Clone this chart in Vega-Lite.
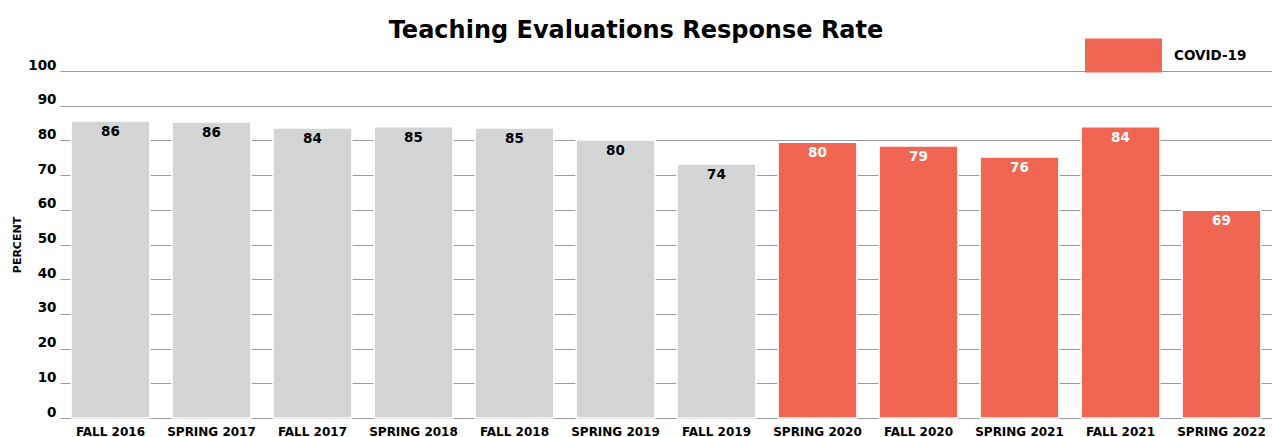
{
  "$schema": "https://vega.github.io/schema/vega-lite/v6.json",
  "width": 1212,
  "height": 347,
  "autosize": {"type": "none"},
  "padding": {"left": 60, "top": 71, "right": 0, "bottom": 19},
  "background": "white",
  "config": {
    "font": "DejaVu Sans",
    "view": {"stroke": null}
  },
  "title": {
    "text": "Teaching Evaluations Response Rate",
    "frame": "group",
    "anchor": "middle",
    "dx": -30,
    "offset": -45,
    "fontSize": 24,
    "fontWeight": "bold",
    "font": "DejaVu Sans",
    "color": "black",
    "baseline": "alphabetic"
  },
  "data": {
    "values": [
      {"term": "FALL 2016", "rate": 85.6, "label": "86", "period": "Pre-COVID"},
      {"term": "SPRING 2017", "rate": 85.3, "label": "86", "period": "Pre-COVID"},
      {"term": "FALL 2017", "rate": 83.6, "label": "84", "period": "Pre-COVID"},
      {"term": "SPRING 2018", "rate": 83.9, "label": "85", "period": "Pre-COVID"},
      {"term": "FALL 2018", "rate": 83.6, "label": "85", "period": "Pre-COVID"},
      {"term": "SPRING 2019", "rate": 80.1, "label": "80", "period": "Pre-COVID"},
      {"term": "FALL 2019", "rate": 73.2, "label": "74", "period": "Pre-COVID"},
      {"term": "SPRING 2020", "rate": 79.5, "label": "80", "period": "COVID-19"},
      {"term": "FALL 2020", "rate": 78.4, "label": "79", "period": "COVID-19"},
      {"term": "SPRING 2021", "rate": 75.2, "label": "76", "period": "COVID-19"},
      {"term": "FALL 2021", "rate": 83.9, "label": "84", "period": "COVID-19"},
      {"term": "SPRING 2022", "rate": 59.9, "label": "69", "period": "COVID-19"}
    ]
  },
  "encoding": {
    "x": {
      "field": "term",
      "type": "nominal",
      "sort": null,
      "scale": {"paddingInner": 0.22, "paddingOuter": 0.11},
      "axis": {
        "title": null,
        "labelAngle": 0,
        "labelFontSize": 12,
        "labelFontWeight": "bold",
        "labelColor": "black",
        "labelPadding": 8,
        "ticks": false,
        "domain": false
      }
    },
    "y": {
      "field": "rate",
      "type": "quantitative",
      "scale": {"domain": [0, 100], "nice": false},
      "axis": {
        "title": "PERCENT",
        "titleFontSize": 11,
        "titleFontWeight": "bold",
        "titleColor": "black",
        "titlePadding": 5,
        "values": [0, 10, 20, 30, 40, 50, 60, 70, 80, 90, 100],
        "labelFontSize": 13.5,
        "labelFontWeight": "bold",
        "labelColor": "black",
        "labelBaseline": "alphabetic",
        "labelOffset": -2,
        "labelPadding": 4,
        "ticks": false,
        "domain": false,
        "grid": true,
        "gridColor": "#9a9a9a",
        "gridWidth": 1
      }
    }
  },
  "layer": [
    {
      "mark": {"type": "bar", "stroke": "white", "strokeWidth": 1.5},
      "encoding": {
        "color": {
          "field": "period",
          "type": "nominal",
          "scale": {"domain": ["Pre-COVID", "COVID-19"], "range": ["#d3d4d6", "#f06652"]},
          "legend": {
            "values": ["COVID-19"],
            "title": null,
            "orient": "none",
            "legendX": 1025,
            "legendY": -54,
            "padding": 0,
            "symbolType": "M-1,-0.44H1V0.44H-1Z",
            "symbolSize": 5929,
            "symbolStrokeWidth": 0,
            "labelFontSize": 13.5,
            "labelFontWeight": "bold",
            "labelColor": "black",
            "labelOffset": 12
          }
        }
      }
    },
    {
      "mark": {"type": "text", "baseline": "middle", "dy": 11, "fontSize": 13.5, "fontWeight": "bold"},
      "encoding": {
        "text": {"field": "label"},
        "color": {
          "condition": {"test": "datum.period === 'COVID-19'", "value": "white"},
          "value": "black"
        }
      }
    }
  ]
}
